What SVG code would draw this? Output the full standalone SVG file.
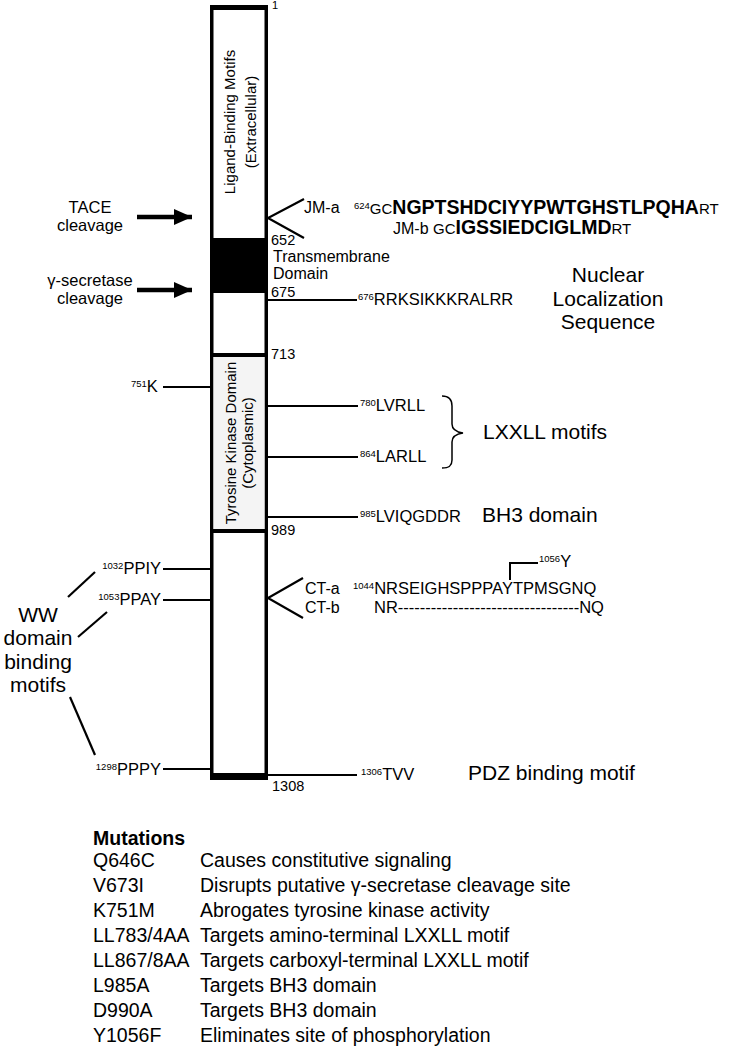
<svg xmlns="http://www.w3.org/2000/svg" width="733" height="1050" viewBox="0 0 733 1050">
<defs>
<style>
text{font-family:"Liberation Sans",Arial,Helvetica,sans-serif;fill:#000}
.s14{font-size:14.5px}
.s15{font-size:15px}
.s16{font-size:16px}
.s165{font-size:16.5px}
.s21{font-size:21px}
.sup{font-size:9.5px}
.b{font-weight:bold;font-size:19.5px}
.m{font-size:19.5px}
.mb{font-size:19.5px;font-weight:bold}
.ln{stroke:#000;stroke-width:2;fill:none}
.br{stroke:#000;stroke-width:2.2;fill:none}
.ar{stroke:#000;stroke-width:4.5;fill:none}
.c{text-anchor:middle}
.e{text-anchor:end}
</style>
<marker id="ah" viewBox="0 0 18 16" refX="18" refY="8" markerWidth="18" markerHeight="16" markerUnits="userSpaceOnUse" orient="auto">
<path d="M0,0 L18,8 L0,16 Z" fill="#000"/>
</marker>
</defs>
<rect width="733" height="1050" fill="#fff"/>

<g id="protein-bar">
<rect x="211.75" y="7.5" width="54.5" height="770" fill="#fff" stroke="#000" stroke-width="3.5"/>
<rect x="213.5" y="357" width="51" height="172" fill="#f4f4f4"/>
<rect x="210" y="5" width="58" height="5" fill="#000"/>
<rect x="210" y="773" width="58" height="7" fill="#000"/>
<rect x="210" y="238" width="58" height="55" fill="#000"/>
<rect x="210" y="353" width="58" height="4" fill="#000"/>
<rect x="210" y="529" width="58" height="4" fill="#000"/>
<text class="s15 c" transform="translate(235,122) rotate(-90)">Ligand-Binding Motifs</text>
<text class="s15 c" transform="translate(256,122) rotate(-90)">(Extracellular)</text>
<text class="s15 c" transform="translate(236,443) rotate(-90)">Tyrosine Kinase Domain</text>
<text class="s15 c" transform="translate(253,443) rotate(-90)">(Cytoplasmic)</text>
<text x="272" y="9" style="font-size:11px">1</text>
<text class="s14" x="271" y="245">652</text>
<text class="s14" x="271" y="297">675</text>
<text class="s14" x="271" y="359">713</text>
<text class="s14" x="271" y="535">989</text>
<text class="s14" x="272" y="791">1308</text>
</g>

<g id="connectors">
<path class="ar" d="M137,217 H192" marker-end="url(#ah)"/>
<path class="ar" d="M137,290 H192" marker-end="url(#ah)"/>
<path class="br" d="M304,199 L268,218 L304,238"/>
<path class="br" d="M303,578 L268,598 L303,618"/>
<path class="ln" d="M268,300 H357"/>
<path class="ln" d="M163,387 H210"/>
<path class="ln" d="M268,406 H358"/>
<path class="ln" d="M268,457 H358"/>
<path class="ln" d="M268,517 H358"/>
<path class="ln" d="M163,569 H210"/>
<path class="ln" d="M163,600 H210"/>
<path class="ln" d="M163,769 H210"/>
<path class="ln" d="M268,775 H357"/>
<path class="br" d="M68,597 L95,572"/>
<path class="br" d="M78,637 L107,612"/>
<path class="br" d="M70,697 L95,755"/>
<path d="M442,396 C449,396 452,399 452,406 L452,424 C452,429 456,432 463,433 C456,434 452,437 452,442 L452,460 C452,466 449,468 442,468" stroke="#000" stroke-width="1.5" fill="none"/>
<path class="ln" d="M510,580 V563 H538" stroke-width="1.5"/>
</g>

<g id="tace">
<text class="s165 c" x="90" y="213">TACE</text>
<text class="s165 c" x="90" y="231">cleavage</text>
</g>
<g id="gamma-secretase">
<text class="s165 c" x="90" y="286">γ-secretase</text>
<text class="s165 c" x="90" y="303.5">cleavage</text>
</g>

<g id="jm">
<text class="s16" x="304" y="213">JM-a</text>
<text x="354" y="214"><tspan class="sup" dy="-5">624</tspan><tspan class="s15" dy="5">GC</tspan><tspan class="b">NGPTSHDCIYYPWTGHSTLPQHA</tspan><tspan class="s15">RT</tspan></text>
<text x="393" y="234"><tspan class="s16">JM-b </tspan><tspan class="s15">GC</tspan><tspan class="b">IGSSIEDCIGLMD</tspan><tspan class="s15">RT</tspan></text>
</g>

<g id="transmembrane">
<text class="s16" x="273" y="262">Transmembrane</text>
<text class="s16" x="273" y="279">Domain</text>
</g>

<g id="nls">
<text x="358" y="305"><tspan class="sup" dy="-5">676</tspan><tspan class="s165" dy="5">RRKSIKKKRALRR</tspan></text>
<text class="s21 c" x="608" y="282">Nuclear</text>
<text class="s21 c" x="608" y="306">Localization</text>
<text class="s21 c" x="608" y="329">Sequence</text>
</g>

<g id="k751">
<text x="131" y="392"><tspan class="sup" dy="-5">751</tspan><tspan class="s165" dy="5">K</tspan></text>
</g>

<g id="lxxll">
<text x="360" y="411"><tspan class="sup" dy="-5">780</tspan><tspan class="s165" dy="5">LVRLL</tspan></text>
<text x="360" y="462"><tspan class="sup" dy="-5">864</tspan><tspan class="s165" dy="5">LARLL</tspan></text>
<text class="s21" x="483" y="439">LXXLL motifs</text>
</g>

<g id="bh3">
<text x="360" y="522"><tspan class="sup" dy="-5">985</tspan><tspan class="s165" dy="5">LVIQGDDR</tspan></text>
<text class="s21" x="482" y="522">BH3 domain</text>
</g>

<g id="ww">
<text class="e" x="161" y="574"><tspan class="sup" dy="-5">1032</tspan><tspan class="s165" dy="5">PPIY</tspan></text>
<text class="e" x="161" y="605"><tspan class="sup" dy="-5">1053</tspan><tspan class="s165" dy="5">PPAY</tspan></text>
<text class="e" x="161" y="775"><tspan class="sup" dy="-5">1298</tspan><tspan class="s165" dy="5">PPPY</tspan></text>
<text class="s21 c" x="38" y="622">WW</text>
<text class="s21 c" x="38" y="645">domain</text>
<text class="s21 c" x="38" y="669">binding</text>
<text class="s21 c" x="38" y="692">motifs</text>
</g>

<g id="ct">
<text class="s16" x="305" y="594">CT-a</text>
<text class="s16" x="305" y="613">CT-b</text>
<text x="353" y="594"><tspan class="sup" dy="-5">1044</tspan><tspan class="s165" dy="5">NRSEIGHSPPPAYTPMSGNQ</tspan></text>
<text class="s165" x="374" y="613">NR---------------------------------NQ</text>
<text x="539" y="567"><tspan class="sup" dy="-5">1056</tspan><tspan class="s165" dy="5">Y</tspan></text>
</g>

<g id="pdz">
<text x="361" y="780"><tspan class="sup" dy="-5">1306</tspan><tspan class="s165" dy="5">TVV</tspan></text>
<text class="s21" x="468" y="780">PDZ binding motif</text>
</g>

<g id="mutations">
<text class="mb" x="93" y="845">Mutations</text>
<text class="m" x="93" y="867">Q646C</text><text class="m" x="200" y="867">Causes constitutive signaling</text>
<text class="m" x="93" y="892">V673I</text><text class="m" x="200" y="892">Disrupts putative γ-secretase cleavage site</text>
<text class="m" x="93" y="917">K751M</text><text class="m" x="200" y="917">Abrogates tyrosine kinase activity</text>
<text class="m" x="93" y="942">LL783/4AA</text><text class="m" x="200" y="942">Targets amino-terminal LXXLL motif</text>
<text class="m" x="93" y="967">LL867/8AA</text><text class="m" x="200" y="967">Targets carboxyl-terminal LXXLL motif</text>
<text class="m" x="93" y="992">L985A</text><text class="m" x="200" y="992">Targets BH3 domain</text>
<text class="m" x="93" y="1017">D990A</text><text class="m" x="200" y="1017">Targets BH3 domain</text>
<text class="m" x="93" y="1042">Y1056F</text><text class="m" x="200" y="1042">Eliminates site of phosphorylation</text>
</g>
</svg>
